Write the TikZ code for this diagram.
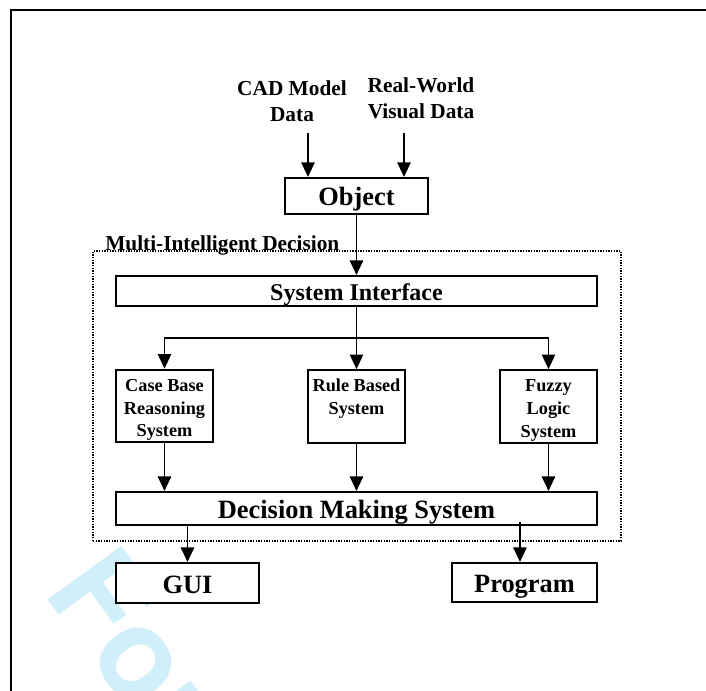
\documentclass[tikz,border=0pt]{standalone}
\usepackage{fontspec}
\setmainfont{Liberation Serif}
\newfontfamily\wmfont{TeX Gyre Heros}
\usetikzlibrary{arrows.meta}
\definecolor{wmcyan}{RGB}{208,239,251}
\newcommand{\firstline}{\rule{0pt}{15pt}}
\begin{document}
\begin{tikzpicture}[x=0.75pt,y=-0.75pt,
    arr/.style={line width=1.4pt,-{Triangle[length=11pt,width=10pt]}},
    box/.style={draw,line width=1.5pt,fill=white,inner sep=0pt,text height=15pt,text depth=0pt,
      font=\bfseries\fontsize{19.8}{22}\selectfont},
    smallbox/.style={draw,line width=1.5pt,fill=white,inner sep=0pt,align=center,
      minimum width=72.75pt,minimum height=54.5pt,font=\bfseries\fontsize{13.7}{17}\selectfont},
    datatext/.style={align=center,font=\bfseries\fontsize{16}{19.2}\selectfont}]
  \useasboundingbox (0,0) rectangle (706,691);

  % watermark
  \begin{scope}
    \clip (0,0) rectangle (706,691);
    \node[anchor=base west,inner sep=0pt,rotate=-54,text=wmcyan,
      font=\wmfont\bfseries\fontsize{94}{94}\selectfont] (wm) at (42,592) {For Peer Review};
  \end{scope}

  % outer frame
  \draw[line width=1.5pt] (706,10) -- (11,10) -- (11,691);

  % inputs
  \node[datatext] (cad) at (292,101) {CAD Model\\Data};
  \node[datatext] (real) at (421,98) {Real-World\\Visual Data};
  \coordinate (cadout) at (308,133);
  \coordinate (realout) at (404,133);

  \node[box,minimum width=107.25pt,minimum height=27pt] (obj) at (356.5,196) {Object};

  % decision group
  \node[draw,dash pattern=on 0.9pt off 1.1pt,line width=1pt,fill=white,
    minimum width=396pt,minimum height=217.5pt] (group) at (357,396) {};
  \node[anchor=base west,inner sep=0pt,font=\bfseries\fontsize{16}{19}\selectfont] (grouplabel) at (105,251) {Multi-Intelligent Decision};

  \node[box,minimum width=360.75pt,minimum height=22.5pt,text height=14pt,
    font=\bfseries\fontsize{18}{21}\selectfont] (sysint) at (356.5,291) {System Interface};
  \coordinate (split) at (356.5,338);

  \node[smallbox] (cbr) at (164.5,406) {\firstline Case Base\\Reasoning\\System};
  \node[smallbox] (rbs) at (356.5,406.5) {\firstline Rule Based\\System\\\phantom{System}};
  \node[smallbox] (fls) at (548.5,406.5) {\firstline Fuzzy\\Logic\\System};

  \node[box,minimum width=360.75pt,minimum height=24.75pt] (dms) at (356.5,508.5) {Decision Making System};

  % outputs
  \node[box,minimum width=107.25pt,minimum height=30pt] (gui) at (187.5,583) {GUI};
  \node[box,minimum width=108.75pt,minimum height=29.25pt] (prog) at (524.5,582.5) {Program};

  \draw[arr] (cadout) -- (cadout |- obj.north);
  \draw[arr] (realout) -- (realout |- obj.north);
  \draw[arr] (obj) -- (sysint);
  \draw[line width=1.4pt] (sysint) -- (split);
  \draw[arr] (split) -| (cbr);
  \draw[arr] (split) -- (rbs);
  \draw[arr] (split) -| (fls);
  \draw[arr] (cbr) -- (cbr |- dms.north);
  \draw[arr] (rbs) -- (rbs |- dms.north);
  \draw[arr] (fls) -- (fls |- dms.north);
  \draw[arr] ([yshift=1.5pt]gui |- dms.south) -- (gui);
  \draw[arr] ([xshift=-3.4pt,yshift=3pt]prog |- dms.south) -- ([xshift=-3.4pt]prog.north);
\end{tikzpicture}
\end{document}
